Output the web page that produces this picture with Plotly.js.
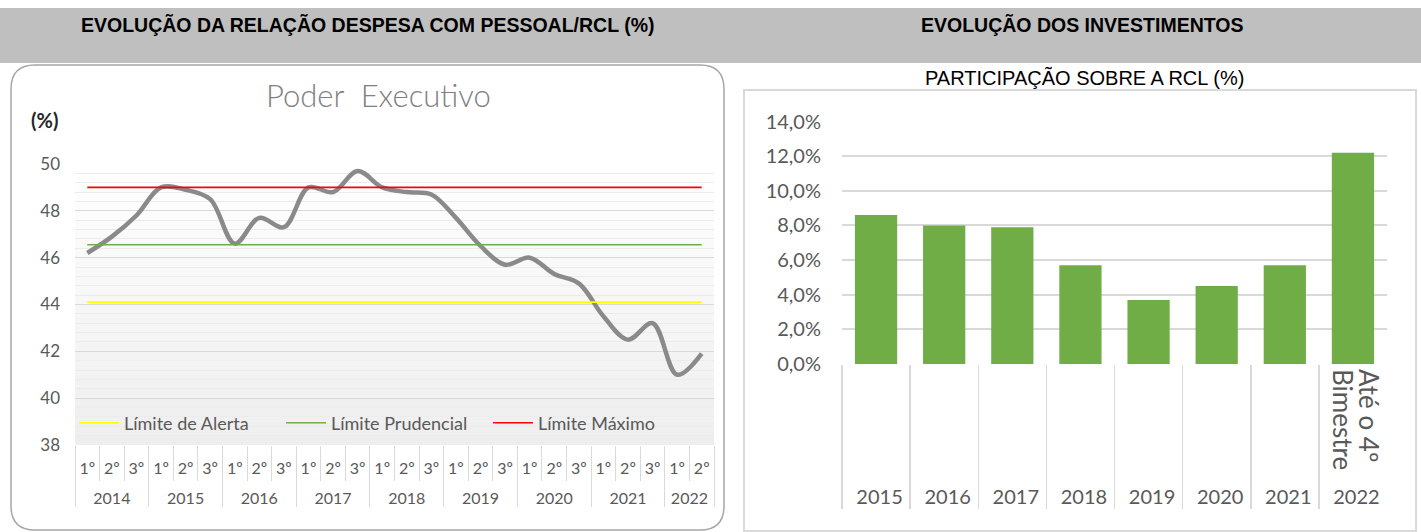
<!DOCTYPE html>
<html>
<head>
<meta charset="utf-8">
<script src="https://cdn.plot.ly/plotly-3.0.1.min.js"></script>
<style>
html,body{margin:0;padding:0;background:#ffffff;}
#chart{width:1421px;height:532px;}
</style>
</head>
<body>
<div id="chart"></div>
<script>
// ---------------- DATA ----------------
const headerLeft = 'EVOLUÇÃO DA RELAÇÃO DESPESA COM PESSOAL/RCL (%)';
const headerRight = 'EVOLUÇÃO DOS INVESTIMENTOS';
const leftTitle = 'Poder&nbsp; Executivo';
const leftUnit = '(%)';
const rightTitle = 'PARTICIPAÇÃO SOBRE A RCL (%)';

const periodYears = ['2014','2014','2014','2015','2015','2015','2016','2016','2016',
                     '2017','2017','2017','2018','2018','2018','2019','2019','2019',
                     '2020','2020','2020','2021','2021','2021','2022','2022'];
const periodQuarters = ['1º','2º','3º','1º','2º','3º','1º','2º','3º',
                        '1º','2º','3º','1º','2º','3º','1º','2º','3º',
                        '1º','2º','3º','1º','2º','3º','1º','2º'];
const despesaPessoalRCL = [46.2, 46.9, 47.8, 49.0, 48.9, 48.5, 46.6, 47.7, 47.3,
                           49.0, 48.8, 49.7, 49.0, 48.8, 48.7, 47.7, 46.5, 45.7,
                           46.0, 45.3, 44.9, 43.5, 42.5, 43.2, 41.0, 41.9];
const limitNames = ['Límite de Alerta', 'Límite Prudencial', 'Límite Máximo'];
const limitValues = [44.1, 46.55, 49.0];
const limitColors = ['#ffff00', '#70ad47', '#ff0000'];

const investYears = ['2015','2016','2017','2018','2019','2020','2021','2022'];
const investNotes = ['','','','','','','','Até o 4º<br>Bimestre'];
const investPct = [8.6, 8.0, 7.9, 5.7, 3.7, 4.5, 5.7, 12.2];

// ---------------- LAYOUT HELPERS ----------------
const W = 1421, H = 532;
const X = px => px / W;
const Y = py => 1 - py / H;
const FONT = 'Lato, "Open Sans", sans-serif';
const TXT = '#595959';

function roundedRectPath(x0, y0, x1, y1, r) {
  const p = (x, y) => X(x) + ',' + Y(y);
  return 'M' + p(x0 + r, y0) + ' L' + p(x1 - r, y0) + ' Q' + p(x1, y0) + ' ' + p(x1, y0 + r) +
         ' L' + p(x1, y1 - r) + ' Q' + p(x1, y1) + ' ' + p(x1 - r, y1) +
         ' L' + p(x0 + r, y1) + ' Q' + p(x0, y1) + ' ' + p(x0, y1 - r) +
         ' L' + p(x0, y0 + r) + ' Q' + p(x0, y0) + ' ' + p(x0 + r, y0) + ' Z';
}

// display labels: quarter labels get a blank second line so the year row sits lower
const quarterDisplay = periodQuarters.map(q => q + '<br>\u00a0');
const noteDisplay = investNotes.map(n => n === '' ? '\u00a0' :
  n.split('<br>').map(l => '<span style="font-size:26px">' + l + '</span>').join('<br>'));
const leftX = [periodYears, quarterDisplay];
const rightX = [investYears, noteDisplay];

// ---------------- TRACES ----------------
const traces = [];
traces.push({
  type: 'scatter', mode: 'lines',
  x: leftX, y: despesaPessoalRCL,
  line: {shape: 'spline', smoothing: 1, color: '#8a8a8a', width: 4.5},
  showlegend: false, hoverinfo: 'skip', xaxis: 'x', yaxis: 'y'
});
limitNames.forEach((name, k) => {
  traces.push({
    type: 'scatter', mode: 'lines', name: name,
    x: leftX, y: periodYears.map(() => limitValues[k]),
    line: {color: limitColors[k], width: 1.6},
    hoverinfo: 'skip', xaxis: 'x', yaxis: 'y'
  });
});
traces.push({
  type: 'bar', x: rightX, y: investPct,
  marker: {color: '#70ad47'}, showlegend: false, hoverinfo: 'skip',
  xaxis: 'x2', yaxis: 'y2'
});

// ---------------- SHAPES ----------------
const shapes = [];
shapes.push({type: 'rect', xref: 'paper', yref: 'paper', x0: 0, x1: 1, y0: Y(63), y1: Y(8),
  fillcolor: '#bfbfbf', line: {width: 0}, layer: 'below'});
shapes.push({type: 'path', xref: 'paper', yref: 'paper', path: roundedRectPath(11, 65, 724, 530, 24),
  fillcolor: 'rgba(0,0,0,0)', line: {color: '#a6a6a6', width: 1.5}, layer: 'below'});
shapes.push({type: 'rect', xref: 'paper', yref: 'paper', x0: X(744), x1: X(1416), y0: Y(531), y1: Y(90),
  fillcolor: 'rgba(0,0,0,0)', line: {color: '#d9d9d9', width: 2}, layer: 'below'});
const nBands = 24;
for (let i = 0; i < nBands; i++) {
  const t = (i + 0.5) / nBands;
  const c = Math.round(255 - 17 * t);
  shapes.push({type: 'rect', xref: 'x domain', yref: 'y domain', x0: 0, x1: 1,
    y0: 1 - (i + 1) / nBands, y1: 1 - i / nBands,
    fillcolor: 'rgb(' + c + ',' + c + ',' + c + ')', line: {width: 0}, layer: 'below'});
}

// ---------------- ANNOTATIONS ----------------
const ann = (text, px, py, font) => ({text: text, xref: 'paper', yref: 'paper', x: X(px), y: Y(py),
  xanchor: 'center', yanchor: 'middle', showarrow: false, font: font});
const annotations = [
  ann('<b>' + headerLeft + '</b>', 367.5, 25, {family: '"Liberation Sans", Arial, sans-serif', size: 19.5, color: '#000'}),
  ann('<b>' + headerRight + '</b>', 1082.5, 25, {family: '"Liberation Sans", Arial, sans-serif', size: 19.5, color: '#000'}),
  ann(leftTitle, 378, 95, {family: FONT, size: 31, color: '#808080', weight: 300}),
  ann('<b>' + leftUnit + '</b>', 44, 120, {family: FONT, size: 20, color: '#262626'}),
  ann(rightTitle, 1084, 78, {family: '"Liberation Sans", Arial, sans-serif', size: 20, color: '#000'})
];

// ---------------- LAYOUT ----------------
const layout = {
  width: W, height: H,
  margin: {l: 0, r: 0, t: 0, b: 0},
  paper_bgcolor: '#ffffff', plot_bgcolor: 'rgba(0,0,0,0)',
  separators: ',.',
  bargap: 0.38,
  font: {family: FONT, color: TXT},
  showlegend: true,
  legend: {orientation: 'h', x: X(74), xanchor: 'left', y: Y(423), yanchor: 'middle',
    bgcolor: 'rgba(0,0,0,0)', font: {family: FONT, size: 18, color: TXT},
    itemwidth: 40, entrywidth: 152, entrywidthmode: 'pixels', traceorder: 'normal'},
  xaxis: {
    domain: [X(75), X(714)], anchor: 'y', type: 'multicategory',
    range: [-0.5, periodYears.length - 0.5], autorange: false,
    showgrid: false, zeroline: false, showline: false,
    ticks: 'outside', ticklen: 35, tickcolor: '#d9d9d9', tickwidth: 1,
    tickangle: 0,
    showdividers: true, dividercolor: '#d9d9d9', dividerwidth: 1,
    ticklabelstandoff: 12,
    tickfont: {family: FONT, size: 16, color: TXT}
  },
  yaxis: {
    domain: [Y(445), Y(164)], anchor: 'x',
    range: [38, 50], tick0: 38, dtick: 2,
    showgrid: true, gridcolor: '#d9d9d9', gridwidth: 1,
    minor: {dtick: 0.4, tick0: 38, showgrid: true, gridcolor: '#ececec', gridwidth: 1},
    zeroline: false, showline: false, ticks: '',
    ticklabelstandoff: 14,
    tickfont: {family: FONT, size: 17, color: TXT}
  },
  xaxis2: {
    domain: [X(842), X(1387)], anchor: 'y2', type: 'multicategory',
    range: [-0.5, investYears.length - 0.5], autorange: false,
    showgrid: false, zeroline: false, showline: false, ticks: '',
    tickangle: 90,
    showdividers: true, dividercolor: '#d9d9d9', dividerwidth: 1.5,
    ticklabelstandoff: 4,
    tickfont: {family: FONT, size: 20, color: TXT}
  },
  yaxis2: {
    domain: [Y(364), Y(121.5)], anchor: 'x2',
    range: [0, 14], tick0: 0, dtick: 2,
    tickformat: '.1f', ticksuffix: '%',
    showgrid: true, gridcolor: '#d9d9d9', gridwidth: 2,
    zeroline: false, showline: false, ticks: '',
    ticklabelstandoff: 20,
    tickfont: {family: FONT, size: 20, color: TXT}
  },
  shapes: shapes,
  annotations: annotations
};

Plotly.newPlot('chart', traces, layout, {staticPlot: true, displayModeBar: false});
</script>
</body>
</html>
